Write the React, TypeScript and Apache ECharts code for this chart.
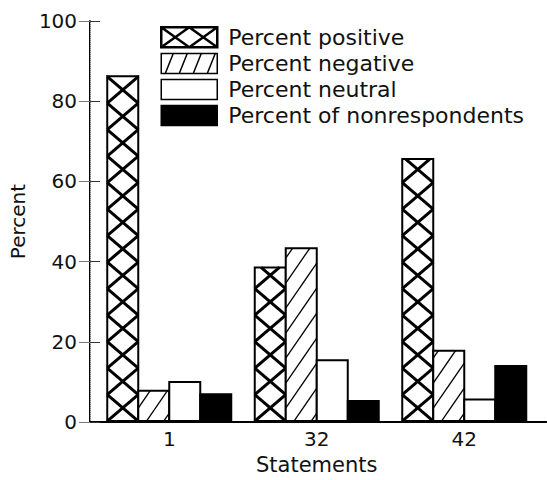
import React, { useEffect, useRef } from 'react';
import * as echarts from 'echarts';

const categories = ['1', '32', '42'];
const seriesNames = ['Percent positive', 'Percent negative', 'Percent neutral', 'Percent of nonrespondents'];
const positive = [86.2, 38.4, 65.5];
const negative = [7.6, 43.2, 17.6];
const neutral = [9.8, 15.2, 5.4];
const nonrespondents = [6.7, 5.0, 13.8];
const yMin = 0;
const yMax = 100;
const yStep = 20;

const FONT = 'DejaVu Sans';
const BAR_W = 31;

function clipSeg(xa: number, ya: number, xb: number, yb: number, top: number, bottom: number) {
  let t0 = 0;
  let t1 = 1;
  const dy = yb - ya;
  if (dy === 0) {
    if (ya < top || ya > bottom) return null;
  } else {
    const ta = (top - ya) / dy;
    const tb = (bottom - ya) / dy;
    t0 = Math.max(t0, Math.min(ta, tb));
    t1 = Math.min(t1, Math.max(ta, tb));
    if (t0 >= t1) return null;
  }
  return {
    x1: xa + t0 * (xb - xa),
    y1: ya + t0 * dy,
    x2: xa + t1 * (xb - xa),
    y2: ya + t1 * dy,
  };
}

function makeRenderItem(kind: number) {
  return (params: any, api: any) => {
    const xi = api.value(0);
    const v = api.value(1);
    const topPt = api.coord([xi, v]);
    const basePt = api.coord([xi, 0]);
    const cx = topPt[0];
    const x0 = cx - 2 * BAR_W + kind * BAR_W;
    const x1 = x0 + BAR_W;
    const yt = topPt[1];
    const yb = basePt[1];
    const h = yb - yt;
    const children: any[] = [];
    children.push({
      type: 'rect',
      shape: { x: x0, y: yt, width: BAR_W, height: h },
      style: { fill: kind === 3 ? '#000' : '#fff', stroke: null },
    });
    if (kind === 0) {
      const p = 26.5;
      for (let k = 0; k * p < h + p; k++) {
        const yk = yb - k * p;
        const a = clipSeg(x0, yk, x1, yk - p, yt, yb);
        const b = clipSeg(x1, yk, x0, yk - p, yt, yb);
        [a, b].forEach((s) => {
          if (s) children.push({ type: 'line', shape: s, style: { stroke: '#000', lineWidth: 3 } });
        });
      }
    } else if (kind === 1) {
      const s = 25;
      const r = 45;
      for (let k = 0; yb + r - k * s - r > yt - r; k++) {
        const yl = yb + r - 8 - k * s;
        const seg = clipSeg(x0, yl, x1, yl - r, yt, yb);
        if (seg) children.push({ type: 'line', shape: seg, style: { stroke: '#000', lineWidth: 1.3 } });
      }
    }
    children.push({
      type: 'rect',
      shape: { x: x0, y: yt, width: BAR_W, height: h },
      style: { fill: 'none', stroke: '#000', lineWidth: 2 },
    });
    return { type: 'group', children };
  };
}

const crossIcon = 'path://M0,0L56,0L56,20L0,20Z M0,0L28,20L56,0 M0,20L28,0L56,20';
const hatchIcon = 'path://M0,0L56,0L56,20L0,20Z M4,20L12,0 M18,20L26,0 M32,20L40,0 M46,20L54,0';

export default function App() {
  const ref = useRef<HTMLDivElement>(null);
  useEffect(() => {
    if (!ref.current) return;
    document.body.style.margin = '0';
    const chart = echarts.init(ref.current, null, { renderer: 'svg' });
    const valueSets = [positive, negative, neutral, nonrespondents];
    const option: any = {
      animation: false,
      backgroundColor: '#fff',
      textStyle: { fontFamily: FONT, color: '#111' },
      legend: {
        orient: 'vertical',
        left: 155,
        top: 21,
        itemWidth: 56,
        itemHeight: 20,
        itemGap: 4,
        selectedMode: false,
        textStyle: { fontFamily: FONT, fontSize: 22, color: '#111', padding: [0, 0, 0, 6] },
        data: [
          { name: seriesNames[0], icon: crossIcon, itemStyle: { color: '#fff', borderColor: '#000', borderWidth: 2.5 } },
          { name: seriesNames[1], icon: hatchIcon, itemStyle: { color: '#fff', borderColor: '#000', borderWidth: 1.5 } },
          { name: seriesNames[2], icon: 'rect', itemStyle: { color: '#fff', borderColor: '#000', borderWidth: 1.5 } },
          { name: seriesNames[3], icon: 'rect', itemStyle: { color: '#000', borderColor: '#000', borderWidth: 1.5 } },
        ],
      },
      grid: [
        { left: 95.5, width: 442.5, top: 21, bottom: 58 },
        { left: 85, right: 1, top: 21, bottom: 58 },
      ],
      xAxis: [
        {
          gridIndex: 0,
          type: 'category',
          data: categories,
          axisLine: { show: false },
          axisTick: { show: false },
          axisLabel: { fontFamily: FONT, fontSize: 20, color: '#111', margin: 8 },
          name: 'Statements',
          nameLocation: 'middle',
          nameGap: 27,
          nameTextStyle: { fontFamily: FONT, fontSize: 21, color: '#111' },
        },
        {
          gridIndex: 1,
          type: 'value',
          min: 0,
          max: 1,
          position: 'bottom',
          axisLine: { show: true, lineStyle: { color: '#000', width: 2 } },
          axisTick: { show: false },
          axisLabel: { show: false },
          splitLine: { show: false },
        },
        {
          gridIndex: 1,
          type: 'value',
          min: 0,
          max: 1,
          position: 'top',
          axisLine: { show: true, lineStyle: { color: '#000', width: 2 } },
          axisTick: { show: false },
          axisLabel: { show: false },
          splitLine: { show: false },
        },
      ],
      yAxis: [
        { gridIndex: 0, type: 'value', min: yMin, max: yMax, show: false },
        {
          gridIndex: 1,
          type: 'value',
          min: yMin,
          max: yMax,
          interval: yStep,
          position: 'left',
          axisLine: { show: true, lineStyle: { color: '#000', width: 2 } },
          axisTick: { show: true, inside: true, length: 10, lineStyle: { color: '#333', width: 1 } },
          axisLabel: { fontFamily: FONT, fontSize: 20, color: '#111', margin: 13 },
          splitLine: { show: false },
          name: 'Percent',
          nameLocation: 'middle',
          nameGap: 56,
          nameTextStyle: { fontFamily: FONT, fontSize: 20, color: '#111' },
        },
        {
          gridIndex: 1,
          type: 'value',
          min: yMin,
          max: yMax,
          interval: yStep,
          position: 'right',
          axisLine: { show: true, lineStyle: { color: '#bbb', width: 1, type: 'dotted' } },
          axisTick: { show: true, inside: true, length: 11, lineStyle: { color: '#777', width: 1 } },
          axisLabel: { show: false },
          splitLine: { show: false },
        },
      ],
      series: seriesNames.map((name, k) => ({
        type: 'custom',
        name,
        xAxisIndex: 0,
        yAxisIndex: 0,
        encode: { x: 0, y: 1 },
        data: categories.map((_, i) => [i, valueSets[k][i]]),
        renderItem: makeRenderItem(k),
        itemStyle: { color: k === 3 ? '#000' : '#fff' },
      })),
    };
    chart.setOption(option);
    return () => chart.dispose();
  }, []);
  return <div ref={ref} style={{ width: 547, height: 480, position: 'absolute', left: 0, top: 0 }} />;
}
